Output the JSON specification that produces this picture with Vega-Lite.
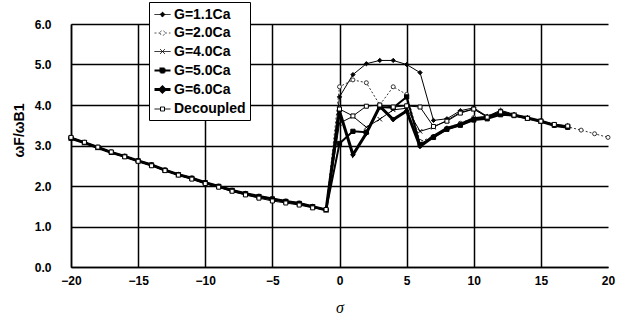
{
 "$schema": "https://vega.github.io/schema/vega-lite/v6.json",
 "autosize": {"type": "none"},
 "padding": {"left": 71, "top": 24, "right": 21, "bottom": 55},
 "width": 537,
 "height": 243,
 "background": "white",
 "config": {"view": {"stroke": null}, "font": "Liberation Sans",
  "legend": {"title": null, "orient": "none", "legendX": 78, "legendY": -22, "fillColor": "white", "strokeColor": "black", "padding": 4, "labelFont": "Liberation Sans", "labelFontSize": 14, "labelFontWeight": "bold", "labelColor": "black", "symbolSize": 256, "rowPadding": 2.5, "labelOffset": 2}},
 "data": {"values": [
  {"s":"G=1.1Ca","x":-20,"y":3.18},{"s":"G=1.1Ca","x":-19,"y":3.07},{"s":"G=1.1Ca","x":-18,"y":2.95},{"s":"G=1.1Ca","x":-17,"y":2.83},{"s":"G=1.1Ca","x":-16,"y":2.73},{"s":"G=1.1Ca","x":-15,"y":2.62},{"s":"G=1.1Ca","x":-14,"y":2.52},{"s":"G=1.1Ca","x":-13,"y":2.39},{"s":"G=1.1Ca","x":-12,"y":2.28},{"s":"G=1.1Ca","x":-11,"y":2.19},{"s":"G=1.1Ca","x":-10,"y":2.08},{"s":"G=1.1Ca","x":-9,"y":1.99},{"s":"G=1.1Ca","x":-8,"y":1.89},{"s":"G=1.1Ca","x":-7,"y":1.81},{"s":"G=1.1Ca","x":-6,"y":1.74},{"s":"G=1.1Ca","x":-5,"y":1.68},{"s":"G=1.1Ca","x":-4,"y":1.62},{"s":"G=1.1Ca","x":-3,"y":1.57},{"s":"G=1.1Ca","x":-2,"y":1.49},{"s":"G=1.1Ca","x":-1,"y":1.41},
  {"s":"G=1.1Ca","x":0,"y":4.2},{"s":"G=1.1Ca","x":1,"y":4.75},{"s":"G=1.1Ca","x":2,"y":5.02},{"s":"G=1.1Ca","x":3,"y":5.1},{"s":"G=1.1Ca","x":4,"y":5.1},{"s":"G=1.1Ca","x":5,"y":5.0},{"s":"G=1.1Ca","x":6,"y":4.8},{"s":"G=1.1Ca","x":7,"y":3.62},{"s":"G=1.1Ca","x":8,"y":3.66},{"s":"G=1.1Ca","x":9,"y":3.86},{"s":"G=1.1Ca","x":10,"y":3.93},{"s":"G=1.1Ca","x":11,"y":3.72},{"s":"G=1.1Ca","x":12,"y":3.87},{"s":"G=1.1Ca","x":13,"y":3.77},{"s":"G=1.1Ca","x":14,"y":3.69},{"s":"G=1.1Ca","x":15,"y":3.6},{"s":"G=1.1Ca","x":16,"y":3.52},{"s":"G=1.1Ca","x":17,"y":3.49},
  {"s":"G=2.0Ca","x":-20,"y":3.19},{"s":"G=2.0Ca","x":-19,"y":3.08},{"s":"G=2.0Ca","x":-18,"y":2.96},{"s":"G=2.0Ca","x":-17,"y":2.84},{"s":"G=2.0Ca","x":-16,"y":2.74},{"s":"G=2.0Ca","x":-15,"y":2.63},{"s":"G=2.0Ca","x":-14,"y":2.53},{"s":"G=2.0Ca","x":-13,"y":2.4},{"s":"G=2.0Ca","x":-12,"y":2.29},{"s":"G=2.0Ca","x":-11,"y":2.2},{"s":"G=2.0Ca","x":-10,"y":2.09},{"s":"G=2.0Ca","x":-9,"y":2.0},{"s":"G=2.0Ca","x":-8,"y":1.9},{"s":"G=2.0Ca","x":-7,"y":1.82},{"s":"G=2.0Ca","x":-6,"y":1.75},{"s":"G=2.0Ca","x":-5,"y":1.69},{"s":"G=2.0Ca","x":-4,"y":1.63},{"s":"G=2.0Ca","x":-3,"y":1.58},{"s":"G=2.0Ca","x":-2,"y":1.5},{"s":"G=2.0Ca","x":-1,"y":1.42},
  {"s":"G=2.0Ca","x":0,"y":4.45},{"s":"G=2.0Ca","x":1,"y":4.62},{"s":"G=2.0Ca","x":2,"y":4.55},{"s":"G=2.0Ca","x":3,"y":4.0},{"s":"G=2.0Ca","x":4,"y":4.45},{"s":"G=2.0Ca","x":5,"y":4.26},{"s":"G=2.0Ca","x":6,"y":3.1},{"s":"G=2.0Ca","x":7,"y":3.22},{"s":"G=2.0Ca","x":8,"y":3.43},{"s":"G=2.0Ca","x":9,"y":3.55},{"s":"G=2.0Ca","x":10,"y":3.69},{"s":"G=2.0Ca","x":11,"y":3.7},{"s":"G=2.0Ca","x":12,"y":3.78},{"s":"G=2.0Ca","x":13,"y":3.74},{"s":"G=2.0Ca","x":14,"y":3.67},{"s":"G=2.0Ca","x":15,"y":3.6},{"s":"G=2.0Ca","x":16,"y":3.5},{"s":"G=2.0Ca","x":17,"y":3.46},{"s":"G=2.0Ca","x":18,"y":3.38},{"s":"G=2.0Ca","x":19,"y":3.29},{"s":"G=2.0Ca","x":20,"y":3.2},
  {"s":"G=4.0Ca","x":-20,"y":3.18},{"s":"G=4.0Ca","x":-19,"y":3.06},{"s":"G=4.0Ca","x":-18,"y":2.94},{"s":"G=4.0Ca","x":-17,"y":2.82},{"s":"G=4.0Ca","x":-16,"y":2.72},{"s":"G=4.0Ca","x":-15,"y":2.61},{"s":"G=4.0Ca","x":-14,"y":2.51},{"s":"G=4.0Ca","x":-13,"y":2.38},{"s":"G=4.0Ca","x":-12,"y":2.27},{"s":"G=4.0Ca","x":-11,"y":2.18},{"s":"G=4.0Ca","x":-10,"y":2.07},{"s":"G=4.0Ca","x":-9,"y":1.98},{"s":"G=4.0Ca","x":-8,"y":1.88},{"s":"G=4.0Ca","x":-7,"y":1.8},{"s":"G=4.0Ca","x":-6,"y":1.73},{"s":"G=4.0Ca","x":-5,"y":1.67},{"s":"G=4.0Ca","x":-4,"y":1.61},{"s":"G=4.0Ca","x":-3,"y":1.56},{"s":"G=4.0Ca","x":-2,"y":1.48},{"s":"G=4.0Ca","x":-1,"y":1.4},
  {"s":"G=4.0Ca","x":0,"y":3.55},{"s":"G=4.0Ca","x":1,"y":3.72},{"s":"G=4.0Ca","x":2,"y":3.45},{"s":"G=4.0Ca","x":3,"y":3.65},{"s":"G=4.0Ca","x":4,"y":3.88},{"s":"G=4.0Ca","x":5,"y":3.92},{"s":"G=4.0Ca","x":6,"y":3.35},{"s":"G=4.0Ca","x":7,"y":3.45},{"s":"G=4.0Ca","x":8,"y":3.62},{"s":"G=4.0Ca","x":9,"y":3.82},{"s":"G=4.0Ca","x":10,"y":3.9},{"s":"G=4.0Ca","x":11,"y":3.71},{"s":"G=4.0Ca","x":12,"y":3.85},{"s":"G=4.0Ca","x":13,"y":3.76},{"s":"G=4.0Ca","x":14,"y":3.68},{"s":"G=4.0Ca","x":15,"y":3.6},{"s":"G=4.0Ca","x":16,"y":3.51},{"s":"G=4.0Ca","x":17,"y":3.47},
  {"s":"G=5.0Ca","x":-20,"y":3.18},{"s":"G=5.0Ca","x":-19,"y":3.07},{"s":"G=5.0Ca","x":-18,"y":2.95},{"s":"G=5.0Ca","x":-17,"y":2.83},{"s":"G=5.0Ca","x":-16,"y":2.73},{"s":"G=5.0Ca","x":-15,"y":2.62},{"s":"G=5.0Ca","x":-14,"y":2.52},{"s":"G=5.0Ca","x":-13,"y":2.39},{"s":"G=5.0Ca","x":-12,"y":2.28},{"s":"G=5.0Ca","x":-11,"y":2.19},{"s":"G=5.0Ca","x":-10,"y":2.08},{"s":"G=5.0Ca","x":-9,"y":1.99},{"s":"G=5.0Ca","x":-8,"y":1.89},{"s":"G=5.0Ca","x":-7,"y":1.81},{"s":"G=5.0Ca","x":-6,"y":1.74},{"s":"G=5.0Ca","x":-5,"y":1.68},{"s":"G=5.0Ca","x":-4,"y":1.62},{"s":"G=5.0Ca","x":-3,"y":1.57},{"s":"G=5.0Ca","x":-2,"y":1.49},{"s":"G=5.0Ca","x":-1,"y":1.41},
  {"s":"G=5.0Ca","x":0,"y":3.05},{"s":"G=5.0Ca","x":1,"y":3.35},{"s":"G=5.0Ca","x":2,"y":3.33},{"s":"G=5.0Ca","x":3,"y":3.95},{"s":"G=5.0Ca","x":4,"y":3.93},{"s":"G=5.0Ca","x":5,"y":4.2},{"s":"G=5.0Ca","x":6,"y":3.02},{"s":"G=5.0Ca","x":7,"y":3.2},{"s":"G=5.0Ca","x":8,"y":3.4},{"s":"G=5.0Ca","x":9,"y":3.5},{"s":"G=5.0Ca","x":10,"y":3.63},{"s":"G=5.0Ca","x":11,"y":3.66},{"s":"G=5.0Ca","x":12,"y":3.76},{"s":"G=5.0Ca","x":13,"y":3.74},{"s":"G=5.0Ca","x":14,"y":3.67},{"s":"G=5.0Ca","x":15,"y":3.6},{"s":"G=5.0Ca","x":16,"y":3.5},{"s":"G=5.0Ca","x":17,"y":3.45},
  {"s":"G=6.0Ca","x":-20,"y":3.18},{"s":"G=6.0Ca","x":-19,"y":3.07},{"s":"G=6.0Ca","x":-18,"y":2.95},{"s":"G=6.0Ca","x":-17,"y":2.83},{"s":"G=6.0Ca","x":-16,"y":2.73},{"s":"G=6.0Ca","x":-15,"y":2.62},{"s":"G=6.0Ca","x":-14,"y":2.52},{"s":"G=6.0Ca","x":-13,"y":2.39},{"s":"G=6.0Ca","x":-12,"y":2.28},{"s":"G=6.0Ca","x":-11,"y":2.19},{"s":"G=6.0Ca","x":-10,"y":2.08},{"s":"G=6.0Ca","x":-9,"y":1.99},{"s":"G=6.0Ca","x":-8,"y":1.89},{"s":"G=6.0Ca","x":-7,"y":1.81},{"s":"G=6.0Ca","x":-6,"y":1.74},{"s":"G=6.0Ca","x":-5,"y":1.68},{"s":"G=6.0Ca","x":-4,"y":1.62},{"s":"G=6.0Ca","x":-3,"y":1.57},{"s":"G=6.0Ca","x":-2,"y":1.49},{"s":"G=6.0Ca","x":-1,"y":1.41},
  {"s":"G=6.0Ca","x":0,"y":3.85},{"s":"G=6.0Ca","x":1,"y":2.77},{"s":"G=6.0Ca","x":2,"y":3.3},{"s":"G=6.0Ca","x":3,"y":3.97},{"s":"G=6.0Ca","x":4,"y":3.64},{"s":"G=6.0Ca","x":5,"y":3.85},{"s":"G=6.0Ca","x":6,"y":2.98},{"s":"G=6.0Ca","x":7,"y":3.22},{"s":"G=6.0Ca","x":8,"y":3.42},{"s":"G=6.0Ca","x":9,"y":3.52},{"s":"G=6.0Ca","x":10,"y":3.66},{"s":"G=6.0Ca","x":11,"y":3.7},{"s":"G=6.0Ca","x":12,"y":3.8},{"s":"G=6.0Ca","x":13,"y":3.75},{"s":"G=6.0Ca","x":14,"y":3.68},{"s":"G=6.0Ca","x":15,"y":3.6},{"s":"G=6.0Ca","x":16,"y":3.5},{"s":"G=6.0Ca","x":17,"y":3.45},
  {"s":"Decoupled","x":-20,"y":3.2},{"s":"Decoupled","x":-19,"y":3.08},{"s":"Decoupled","x":-18,"y":2.96},{"s":"Decoupled","x":-17,"y":2.84},{"s":"Decoupled","x":-16,"y":2.72},{"s":"Decoupled","x":-15,"y":2.61},{"s":"Decoupled","x":-14,"y":2.5},{"s":"Decoupled","x":-13,"y":2.38},{"s":"Decoupled","x":-12,"y":2.27},{"s":"Decoupled","x":-11,"y":2.17},{"s":"Decoupled","x":-10,"y":2.06},{"s":"Decoupled","x":-9,"y":1.97},{"s":"Decoupled","x":-8,"y":1.87},{"s":"Decoupled","x":-7,"y":1.78},{"s":"Decoupled","x":-6,"y":1.7},{"s":"Decoupled","x":-5,"y":1.63},{"s":"Decoupled","x":-4,"y":1.58},{"s":"Decoupled","x":-3,"y":1.53},{"s":"Decoupled","x":-2,"y":1.46},{"s":"Decoupled","x":-1,"y":1.42},
  {"s":"Decoupled","x":0,"y":3.9},{"s":"Decoupled","x":1,"y":3.73},{"s":"Decoupled","x":2,"y":3.97},{"s":"Decoupled","x":3,"y":4.0},{"s":"Decoupled","x":4,"y":3.95},{"s":"Decoupled","x":5,"y":3.98},{"s":"Decoupled","x":6,"y":3.95},{"s":"Decoupled","x":7,"y":3.47},{"s":"Decoupled","x":8,"y":3.6},{"s":"Decoupled","x":9,"y":3.8},{"s":"Decoupled","x":10,"y":3.9},{"s":"Decoupled","x":11,"y":3.7},{"s":"Decoupled","x":12,"y":3.83},{"s":"Decoupled","x":13,"y":3.75},{"s":"Decoupled","x":14,"y":3.67},{"s":"Decoupled","x":15,"y":3.6},{"s":"Decoupled","x":16,"y":3.52},{"s":"Decoupled","x":17,"y":3.48}
 ]},
 "encoding": {
  "x": {"field": "x", "type": "quantitative", "scale": {"domain": [-20, 20], "nice": false},
   "axis": {"values": [-20,-15,-10,-5,0,5,10,15,20], "title": "σ", "titleFont": "Liberation Serif", "titleFontStyle": "italic", "titleFontWeight": "normal", "titleFontSize": 16, "titleColor": "black", "titlePadding": 13,
    "labelFont": "Liberation Sans", "labelFontWeight": "bold", "labelFontSize": 12, "labelColor": "black", "labelPadding": 8, "labelFlush": false, "ticks": false,
    "domainColor": "black", "domainWidth": 1.5, "grid": true, "gridWidth": 1.5,
    "gridColor": {"condition": {"test": "datum.value === 20", "value": "transparent"}, "value": "black"}}},
  "y": {"field": "y", "type": "quantitative", "scale": {"domain": [0, 6], "nice": false},
   "axis": {"values": [0,1,2,3,4,5,6], "format": ".1f", "title": "ωF/ωB1", "titleFont": "Liberation Sans", "titleFontWeight": "bold", "titleFontSize": 14, "titleColor": "black", "titleX": -52, "titleY": 106, "titleAngle": -90, "titleAlign": "center", "titleBaseline": "middle",
    "labelFont": "Liberation Sans", "labelFontWeight": "bold", "labelFontSize": 12, "labelColor": "black", "labelPadding": 20, "ticks": false,
    "domainColor": "black", "domainWidth": 1.5, "grid": true, "gridWidth": 1.5, "gridColor": "black"}}
 },
 "layer": [
  {"transform": [{"filter": {"field": "s", "equal": "G=1.1Ca"}}], "mark": {"type": "line", "color": "black", "strokeWidth": 1, "point": {"shape": "diamond", "filled": true, "fill": "black", "stroke": "black", "strokeWidth": 1, "size": 18}}},
  {"transform": [{"filter": {"field": "s", "equal": "G=2.0Ca"}}], "mark": {"type": "line", "color": "#333", "strokeWidth": 1, "strokeDash": [2, 2], "point": {"shape": "circle", "filled": true, "fill": "white", "stroke": "#333", "strokeWidth": 1, "size": 16}}},
  {"transform": [{"filter": {"field": "s", "equal": "G=4.0Ca"}}], "mark": {"type": "line", "color": "black", "strokeWidth": 1, "point": {"shape": "M-1,-1L1,1M-1,1L1,-1", "filled": false, "stroke": "black", "strokeWidth": 1, "size": 20}}},
  {"transform": [{"filter": {"field": "s", "equal": "G=5.0Ca"}}], "mark": {"type": "line", "color": "black", "strokeWidth": 2, "point": {"shape": "square", "filled": true, "fill": "black", "stroke": "black", "strokeWidth": 1, "size": 18}}},
  {"transform": [{"filter": {"field": "s", "equal": "G=6.0Ca"}}], "mark": {"type": "line", "color": "black", "strokeWidth": 3, "point": {"shape": "diamond", "filled": true, "fill": "black", "stroke": "black", "strokeWidth": 1, "size": 22}}},
  {"transform": [{"filter": {"field": "s", "equal": "Decoupled"}}], "mark": {"type": "line", "color": "black", "strokeWidth": 1, "point": {"shape": "square", "filled": true, "fill": "white", "stroke": "black", "strokeWidth": 1, "size": 16}}},
  {"transform": [{"filter": {"field": "x", "gt": 100}}],
   "mark": {"type": "point", "filled": true, "opacity": 1},
   "encoding": {
    "fill": {"field": "s", "type": "nominal", "scale": {"domain": ["G=1.1Ca","G=2.0Ca","G=4.0Ca","G=5.0Ca","G=6.0Ca","Decoupled"], "range": ["black","white","black","black","black","white"]}},
    "stroke": {"field": "s", "type": "nominal", "scale": {"domain": ["G=1.1Ca","G=2.0Ca","G=4.0Ca","G=5.0Ca","G=6.0Ca","Decoupled"], "range": ["black","#555","black","black","black","black"]}},
    "strokeWidth": {"field": "s", "type": "nominal", "scale": {"type": "ordinal", "domain": ["G=1.1Ca","G=2.0Ca","G=4.0Ca","G=5.0Ca","G=6.0Ca","Decoupled"], "range": [1,1,1,2,3,1]}},
    "strokeDash": {"field": "s", "type": "nominal", "scale": {"domain": ["G=1.1Ca","G=2.0Ca","G=4.0Ca","G=5.0Ca","G=6.0Ca","Decoupled"], "range": [[1,0],[2,2],[1,0],[1,0],[1,0],[1,0]]}},
    "shape": {"field": "s", "type": "nominal", "scale": {"domain": ["G=1.1Ca","G=2.0Ca","G=4.0Ca","G=5.0Ca","G=6.0Ca","Decoupled"], "range": ["M-1,0H1M0,-0.3L0.3,0L0,0.3L-0.3,0Z","M-1,0H-0.3M0.3,0H1M-0.3,0A0.3,0.3,0,1,0,0.3,0A0.3,0.3,0,1,0,-0.3,0","M-1,0H1M-0.3,-0.3L0.3,0.3M-0.3,0.3L0.3,-0.3","M-1,0H1M-0.25,-0.25H0.25V0.25H-0.25Z","M-1,0H1M-0.3,0L0,-0.3L0.3,0L0,0.3Z","M-1,0H-0.25M0.25,0H1M-0.25,-0.25H0.25V0.25H-0.25Z"]}}
   }}
 ]
}
